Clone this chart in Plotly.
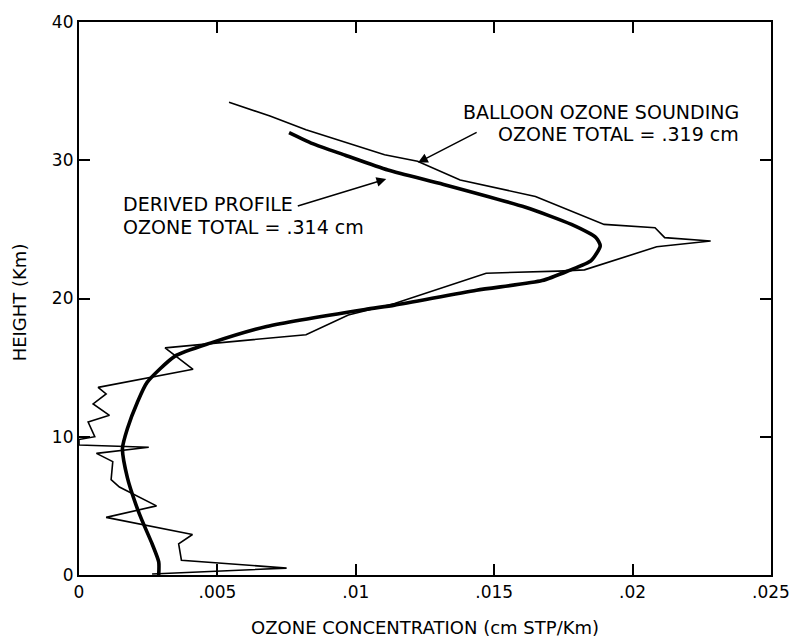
import plotly.graph_objects as go

# Balloon ozone sounding: concentration (cm STP/km) vs height (km)
balloon_conc = [0.00264, 0.0075, 0.0037, 0.0036, 0.0041, 0.0023, 0.00098, 0.0028,
                0.00146, 0.00116, 0.00122, 0.00063, 0.00252, 0.0, 0.0, 0.00057,
                0.00033, 0.0011, 0.00051, 0.00098, 0.00069, 0.00412, 0.00311, 0.0082,
                0.00973, 0.0114, 0.01471, 0.01732, 0.01826, 0.02087, 0.02282, 0.02116,
                0.02081, 0.01897, 0.01649, 0.01377, 0.01223, 0.01104, 0.0082, 0.0069,
                0.00542]
balloon_height = [0.07, 0.5, 1.07, 2.26, 2.93, 3.64, 4.17, 5.0,
                  6.36, 6.9, 8.2, 8.8, 9.24, 9.4, 9.8, 10.0,
                  11.07, 11.55, 12.38, 13.1, 13.57, 14.88, 16.43, 17.38,
                  18.8, 19.64, 21.83, 21.98, 22.07, 23.74, 24.16, 24.4,
                  25.12, 25.36, 27.38, 28.57, 29.93, 30.4, 32.2, 33.2,
                  34.2]

# Derived profile
derived_conc = [0.00288, 0.00288, 0.00264, 0.00228, 0.00205, 0.00175, 0.00157, 0.00175,
                0.00211, 0.00246, 0.00347, 0.00477, 0.00678, 0.01033, 0.0114, 0.01436,
                0.01673, 0.01767, 0.0185, 0.01883, 0.01868, 0.01779, 0.01613,
                0.01317, 0.01116, 0.00962, 0.00844, 0.00759]
derived_height = [0.0, 0.95, 2.26, 3.93, 5.12, 7.02, 9.16, 10.6,
                  12.5, 13.93, 15.83, 16.79, 17.98, 19.21, 19.52, 20.6,
                  21.3, 22.0, 22.74, 23.81, 24.4, 25.36, 26.6,
                  28.25, 29.29, 30.36, 31.2, 32.0]

x_tick_vals = [0, 0.005, 0.01, 0.015, 0.02, 0.025]
x_tick_text = ["0", ".005", ".01", ".015", ".02", ".025"]
y_tick_vals = [0, 10, 20, 30, 40]

FONT = "DejaVu Sans"

fig = go.Figure()
fig.add_trace(go.Scatter(x=balloon_conc, y=balloon_height, mode="lines",
                         line=dict(color="black", width=1.6), showlegend=False))
fig.add_trace(go.Scatter(x=derived_conc, y=derived_height, mode="lines",
                         line=dict(color="black", width=3.6, shape="spline", smoothing=0.6),
                         showlegend=False))

text_style = dict(font=dict(family=FONT, size=19, color="black"), showarrow=False,
                  xref="x", yref="y", yanchor="middle")
annotations = [
    dict(x=0.00152, y=26.8, text="DERIVED PROFILE", xanchor="left", **text_style),
    dict(x=0.00152, y=25.2, text="OZONE TOTAL = .314 cm", xanchor="left", **text_style),
    dict(x=0.0239, y=33.5, text="BALLOON OZONE SOUNDING", xanchor="right", **text_style),
    dict(x=0.0239, y=31.9, text="OZONE TOTAL = .319 cm", xanchor="right", **text_style),
    # arrows
    dict(x=0.0111, y=28.64, ax=0.00785, ay=26.66, xref="x", yref="y", axref="x", ayref="y",
         text="", showarrow=True, arrowhead=2, arrowsize=1.3, arrowwidth=1.5,
         arrowcolor="black"),
    dict(x=0.01225, y=29.83, ax=0.01442, ay=32.07, xref="x", yref="y", axref="x", ayref="y",
         text="", showarrow=True, arrowhead=2, arrowsize=1.3, arrowwidth=1.5,
         arrowcolor="black"),
    # axis titles
    dict(x=0.5, y=0, xref="paper", yref="paper", xanchor="center", yanchor="middle",
         yshift=-52, text="OZONE CONCENTRATION (cm STP/Km)", showarrow=False,
         font=dict(family=FONT, size=18, color="black")),
    dict(x=0, y=0.493, xref="paper", yref="paper", xanchor="center", yanchor="middle",
         xshift=-60, textangle=-90, text="HEIGHT (Km)", showarrow=False,
         font=dict(family=FONT, size=18, color="black")),
]

fig.update_layout(
    width=802, height=641,
    margin=dict(l=79, r=19, t=15, b=66),
    paper_bgcolor="white", plot_bgcolor="white",
    annotations=annotations,
    xaxis=dict(range=[0, 0.025], tickvals=x_tick_vals, ticktext=x_tick_text,
               showgrid=False, zeroline=False, showline=True, linecolor="black",
               linewidth=2.2, mirror="ticks", ticks="inside", ticklen=11, tickwidth=1.5,
               tickcolor="black", tickfont=dict(family=FONT, size=17, color="black")),
    yaxis=dict(range=[0, 40], tickvals=y_tick_vals,
               showgrid=False, zeroline=False, showline=True, linecolor="black",
               linewidth=2.2, mirror="ticks", ticks="inside", ticklen=11, tickwidth=1.5,
               tickcolor="black", tickfont=dict(family=FONT, size=17, color="black")),
)

fig.write_html("out.html")
